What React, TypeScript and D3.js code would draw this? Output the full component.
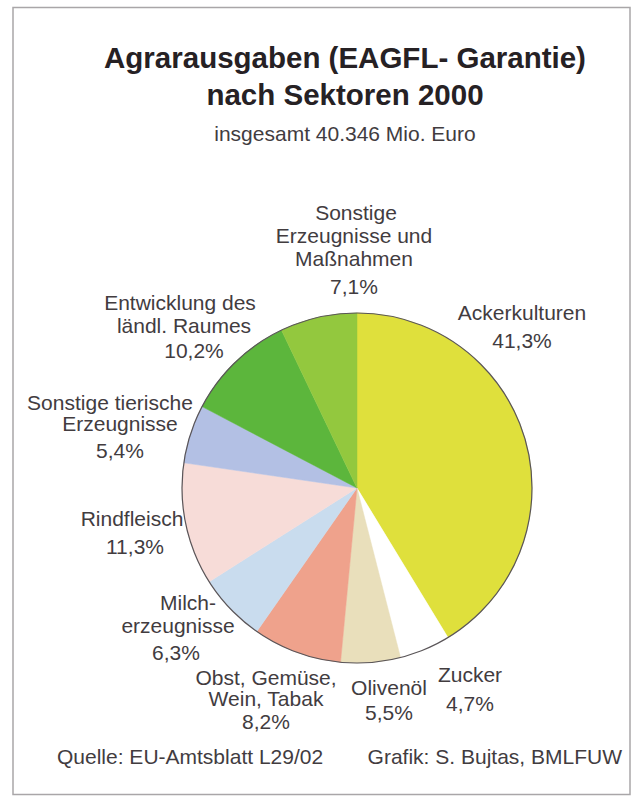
import React from "react";
import * as d3 from "d3";

const categories = [
  "Ackerkulturen",
  "Zucker",
  "Olivenöl",
  "Obst, Gemüse, Wein, Tabak",
  "Milcherzeugnisse",
  "Rindfleisch",
  "Sonstige tierische Erzeugnisse",
  "Entwicklung des ländl. Raumes",
  "Sonstige Erzeugnisse und Maßnahmen",
];
const values = [41.3, 4.7, 5.5, 8.2, 6.3, 11.3, 5.4, 10.2, 7.1];
const valueLabels = ["41,3%", "4,7%", "5,5%", "8,2%", "6,3%", "11,3%", "5,4%", "10,2%", "7,1%"];
const nameLines = [
  ["Ackerkulturen"],
  ["Zucker"],
  ["Olivenöl"],
  ["Obst, Gemüse,", "Wein, Tabak"],
  ["Milch-", "erzeugnisse"],
  ["Rindfleisch"],
  ["Sonstige tierische", "Erzeugnisse"],
  ["Entwicklung des", "ländl. Raumes"],
  ["Sonstige", "Erzeugnisse und", "Maßnahmen"],
];

const colors = ["#dfe03c", "#ffffff", "#e9dfbb", "#efa28c", "#c9dcee", "#f7dcd8", "#b3c0e4", "#5cb63c", "#93c83e"];

// label layout: centre x, first baseline y, step between name lines, step to percentage line
const labelLayout: [number, number, number, number][] = [
  [522, 320, 0, 28],
  [470, 682, 0, 29],
  [389, 695, 0, 25],
  [266, 685, 21, 23],
  [178, 610, 23, 27],
  [132, 526, 0, 28],
  [118, 410, 21, 27],
  [184, 310, 23, 25],
  [354, 220, 23, 28],
];
// per-line horizontal nudges (first line, other lines, percentage)
const labelNudge: [number, number, number][] = [
  [0, 0, 0],
  [0, 0, 0],
  [0, 0, 0],
  [0, 0, 0],
  [10, 0, -2],
  [0, 0, 3],
  [-8, 2, 2],
  [-4, 0, 10],
  [2, 0, 0],
];

const W = 636;
const H = 797;
const cx = 357;
const cy = 488;
const R = 175;
const font = "'Liberation Sans', Arial, sans-serif";
const textColor = "#423c3f";

export default function App() {
  const pie = d3.pie<number>().value((d) => d).sort(null)(values);
  const arc = d3.arc<d3.PieArcDatum<number>>().innerRadius(0).outerRadius(R);

  return (
    <svg
      width={W}
      height={H}
      viewBox={`0 0 ${W} ${H}`}
      style={{ position: "absolute", left: 0, top: 0, background: "#fff" }}
    >
      <rect x={13} y={7.5} width={617} height={787} fill="#fff" stroke="#a9a6a8" strokeWidth={1.5} />
      <text x={345} y={68} textAnchor="middle" fontFamily={font} fontWeight="bold" fontSize={29.5} fill="#262124">
        Agrarausgaben (EAGFL- Garantie)
      </text>
      <text x={345} y={105} textAnchor="middle" fontFamily={font} fontWeight="bold" fontSize={29.5} fill="#262124">
        nach Sektoren 2000
      </text>
      <text x={345} y={141} textAnchor="middle" fontFamily={font} fontSize={21} fill={textColor}>
        insgesamt 40.346 Mio. Euro
      </text>

      <g transform={`translate(${cx},${cy})`}>
        {pie.map((d, i) => (
          <path key={categories[i]} d={arc(d) || ""} fill={colors[i]} stroke={colors[i]} strokeWidth={0.5} />
        ))}
        <circle r={R} fill="none" stroke="#5a5558" strokeWidth={1.2} />
      </g>

      {categories.map((c, i) => {
        const [lx, ly, nStep, pStep] = labelLayout[i];
        const [n0, n1, np] = labelNudge[i];
        const names = nameLines[i];
        const pctY = ly + (names.length - 1) * nStep + pStep;
        return (
          <text key={c} textAnchor="middle" fontFamily={font} fontSize={21} fill={textColor}>
            {names.map((l, j) => (
              <tspan key={j} x={lx + (j === 0 ? n0 : n1)} y={ly + j * nStep}>
                {l}
              </tspan>
            ))}
            <tspan x={lx + np} y={pctY}>
              {valueLabels[i]}
            </tspan>
          </text>
        );
      })}

      <text x={57} y={764} fontFamily={font} fontSize={21} fill={textColor}>
        Quelle: EU-Amtsblatt L29/02
      </text>
      <text x={622} y={764} textAnchor="end" fontFamily={font} fontSize={21} fill={textColor}>
        Grafik: S. Bujtas, BMLFUW
      </text>
    </svg>
  );
}
